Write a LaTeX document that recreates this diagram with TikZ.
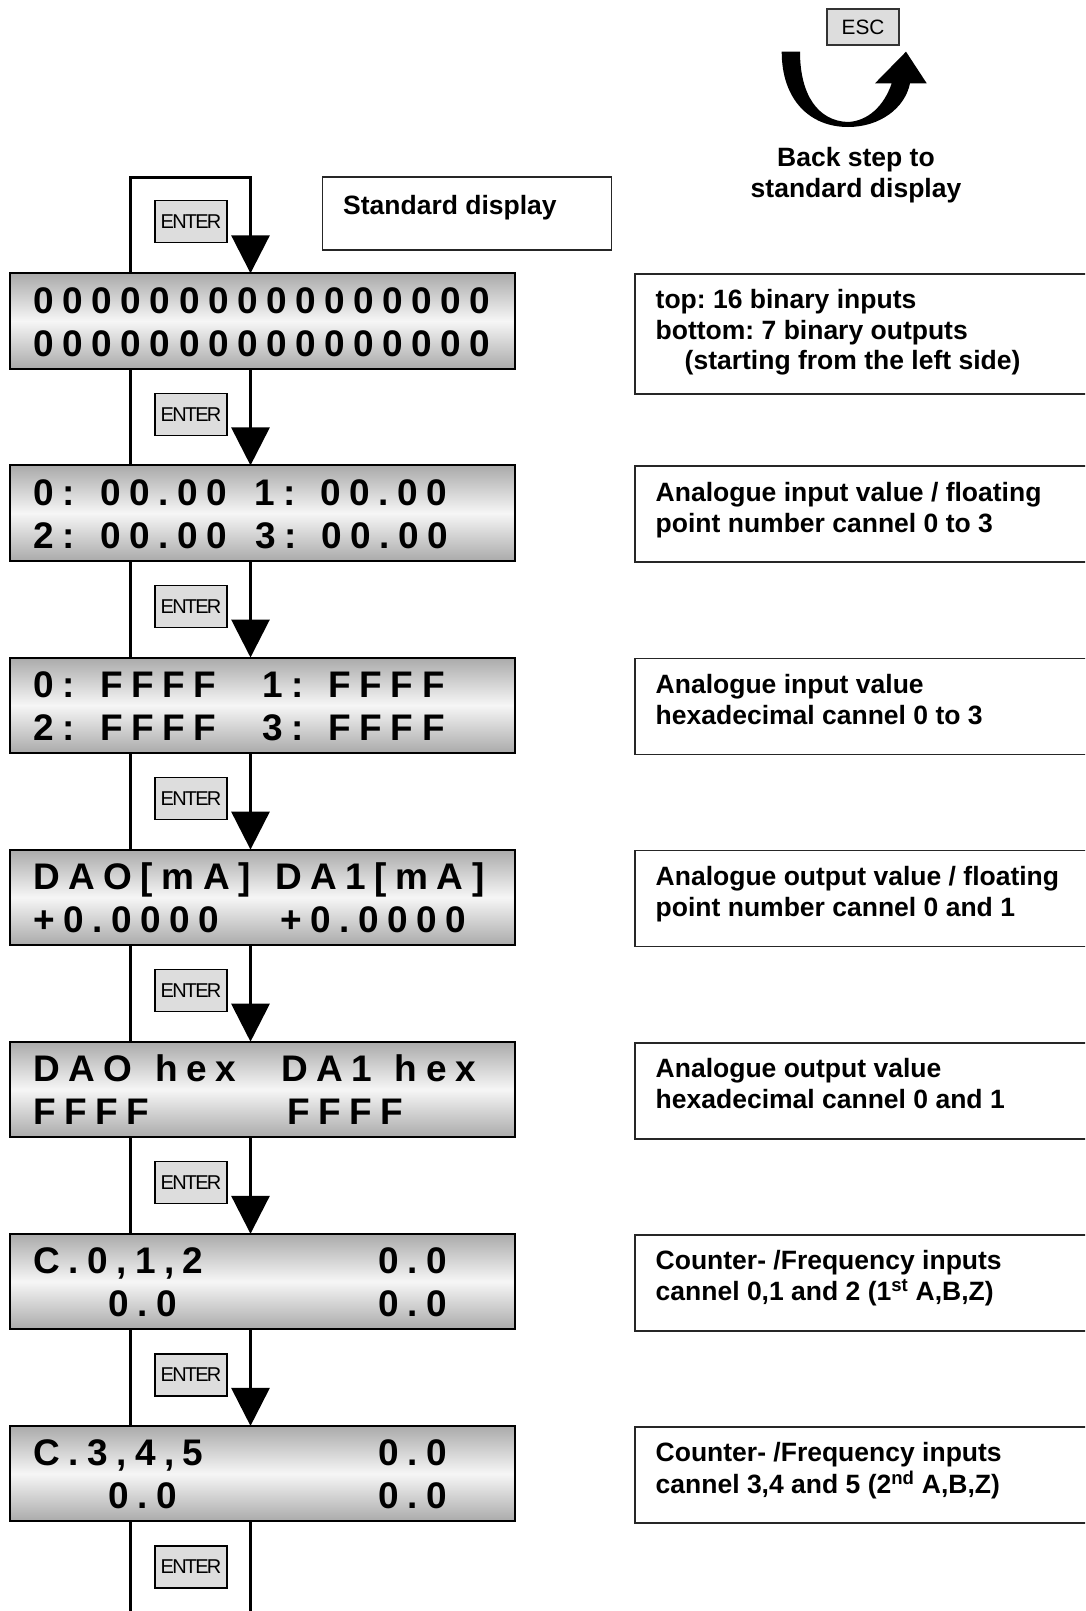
\documentclass[tikz,border=0pt]{standalone}
\usepackage{fontspec}
\setmainfont{Liberation Sans}
\newfontfamily\lcdfont[LetterSpace=23]{Liberation Sans}
\newfontfamily\keyfont[LetterSpace=-9]{Liberation Sans}
\usetikzlibrary{arrows.meta}
\pgfdeclarelayer{background}
\pgfsetlayers{background,main}
\definecolor{lcdedge}{RGB}{170,170,170}
\definecolor{lcdmid}{RGB}{246,246,246}
\definecolor{keyfill}{RGB}{221,221,221}
\newcommand\desctext{\fontsize{26.5}{30.8}\selectfont\bfseries\frenchspacing}
\newcommand\lcdtext{\lcdfont\fontsize{37}{43}\selectfont\bfseries}
\newcommand\keytext{\keyfont\fontsize{20}{22}\selectfont}
\newcommand\esctext{\fontsize{20.8}{22}\selectfont}
\newcommand\textlines[2][l]{\begin{tabular}[t]{@{}#1@{}}#2\end{tabular}}

\begin{document}
\begin{tikzpicture}[x=1pt,y=-1pt,
  lcd/.style={draw=black, line width=2pt, top color=lcdedge, bottom color=lcdedge,
    middle color=lcdmid, minimum width=504.5pt, minimum height=95.5pt,
    inner sep=0pt, outer sep=0pt},
  lcdrow/.style={anchor=base west, inner sep=0pt, font=\lcdtext},
  key/.style={draw=black, line width=1.3pt, fill=keyfill, minimum width=72pt,
    minimum height=42pt, inner sep=0pt, font=\keytext},
  infobox/.style={draw=black!85, line width=1.8pt, anchor=north west,
    minimum width=470pt, inner sep=0pt},
  info/.style={anchor=base west, inner sep=0pt, font=\desctext},
  flow/.style={line width=3pt, line join=miter},
  flowarrow/.style={flow, -{Triangle[width=38pt,length=38pt]}}]

\clip (0,0) rectangle (1085,1611);

% rails of the menu loop
\coordinate (lx) at (130.5,0);
\coordinate (rx) at (250.5,0);
\coordinate (loop) at (190,177.3);
\coordinate (exit) at (190,1625);

% display boxes
\foreach \i/\t in {1/273.3,2/465.4,3/657.5,4/849.6,5/1041.7,6/1233.8,7/1425.9}
  \node[lcd] (lcd\i) at (262.5,\t+47.75) {};

% page and connectors, kept behind the display boxes
\begin{pgfonlayer}{background}
\fill[white] (0,0) rectangle (1085,1611);
\draw[flowarrow] (lcd1.north -| lx) |- (loop) -| (lcd1.north -| rx);
\foreach \i [evaluate=\i as \j using int(\i+1)] in {1,...,6} {
  \draw[flow] (lcd\i.south -| lx) -- (lcd\j.north -| lx);
  \draw[flowarrow] (lcd\i.south -| rx) -- (lcd\j.north -| rx);
}
\draw[flow] (lcd7.south -| lx) -- (exit -| lx);
\draw[flow] (lcd7.south -| rx) -- (exit -| rx);
\end{pgfonlayer}

% ENTER keys
\node[key] (e0) at (191,221.3) {ENTER};
\foreach \i/\t in {1/273.3,2/465.4,3/657.5,4/849.6,5/1041.7,6/1233.8,7/1425.9}
  \node[key] (e\i) at (191,\t+141.1) {ENTER};

% display contents
\node[lcdrow] (t1a) at (33.5,313.3) {0000000000000000};
\node[lcdrow] (t1b) at (33.5,356.3) {0000000000000000};

\node[lcdrow] (t2a) at (33.5,505.4) {0: 00.00};
\node[lcdrow] (t2b) at (254,505.4) {1: 00.00};
\node[lcdrow] (t2c) at (33.5,548.4) {2: 00.00};
\node[lcdrow] (t2d) at (255,548.4) {3: 00.00};

\node[lcdrow] (t3a) at (33.5,697.5) {0: FFFF};
\node[lcdrow] (t3b) at (262,697.5) {1: FFFF};
\node[lcdrow] (t3c) at (33.5,740.5) {2: FFFF};
\node[lcdrow] (t3d) at (262,740.5) {3: FFFF};

\node[lcdrow] (t4a) at (33,889.6) {DAO[mA]};
\node[lcdrow] (t4b) at (275,889.6) {DA1[mA]};
\node[lcdrow] (t4c) at (33.5,932.6) {+0.0000};
\node[lcdrow] (t4d) at (280,932.6) {+0.0000};

\node[lcdrow] (t5a) at (33,1081.7) {DAO\hspace{4pt} hex};
\node[lcdrow] (t5b) at (281,1081.7) {DA1\hspace{4pt} hex};
\node[lcdrow] (t5c) at (33,1124.7) {FFFF};
\node[lcdrow] (t5d) at (287,1124.7) {FFFF};

\node[lcdrow] (t6a) at (33,1273.8) {C.0,1,2};
\node[lcdrow] (t6b) at (378,1273.8) {0.0};
\node[lcdrow] (t6c) at (108,1316.8) {0.0};
\node[lcdrow] (t6d) at (378,1316.8) {0.0};

\node[lcdrow] (t7a) at (33,1465.9) {C.3,4,5};
\node[lcdrow] (t7b) at (378,1465.9) {0.0};
\node[lcdrow] (t7c) at (108,1508.9) {0.0};
\node[lcdrow] (t7d) at (378,1508.9) {0.0};

% explanation boxes on the right
\node[infobox, minimum height=120pt] (ib1) at (634,273.3) {};
\foreach \i/\t in {2/465.4,3/657.5,4/849.6,5/1041.7,6/1233.8,7/1425.9}
  \node[infobox, minimum height=96pt] (ib\i) at (634,\t) {};

\node[info] (d1) at (655.5,308.3) {\textlines{top: 16 binary inputs\\
  bottom: 7 binary outputs\\\hspace*{29pt}(starting from the left side)}};
\node[info] (d2) at (655.5,501.4) {\textlines{Analogue input value / floating\\
  point number cannel 0 to 3}};
\node[info] (d3) at (655.5,693.5) {\textlines{Analogue input value\\
  hexadecimal cannel 0 to 3}};
\node[info] (d4) at (655.5,885.6) {\textlines{Analogue output value / floating\\
  point number cannel 0 and 1}};
\node[info] (d5) at (655.5,1077.7) {\textlines{Analogue output value\\
  hexadecimal cannel 0 and 1}};
\node[info] (d6) at (655.5,1269.8) {\textlines{Counter- /Frequency inputs\\
  cannel 0,1 and 2 (1\textsuperscript{st} A,B,Z)}};
\node[info] (d7) at (655.5,1461.9) {\textlines{Counter- /Frequency inputs\\
  cannel 3,4 and 5 (2\textsuperscript{nd} A,B,Z)}};

% standard display label
\node[draw=black!85, line width=1.8pt, minimum width=289pt, minimum height=73pt,
  inner sep=0pt] (std) at (467,213.2) {};
\node[info] (stdtext) at (343,214) {Standard display};

% ESC key and the back-step arrow
\node[draw=black!80, line width=1.3pt, fill=keyfill, minimum width=72pt,
  minimum height=36pt, inner sep=0pt, font=\esctext] (esc) at (863,27) {ESC};
\fill (781.7,51.7) .. controls (781.7,100) and (810,127) .. (848,127)
  .. controls (880,127) and (905,108) .. (910,83.3)
  -- (926.7,83.3) -- (906,51.7) -- (875,83.3) -- (891.7,83.3)
  .. controls (884,106) and (868,121) .. (848,122)
  .. controls (818,121) and (800,95) .. (800,51.7) -- cycle;
\node[anchor=base, inner sep=0pt, font=\desctext] (back) at (856,166.5)
  {\textlines[c]{Back step to\\standard display}};

\end{tikzpicture}
\end{document}
